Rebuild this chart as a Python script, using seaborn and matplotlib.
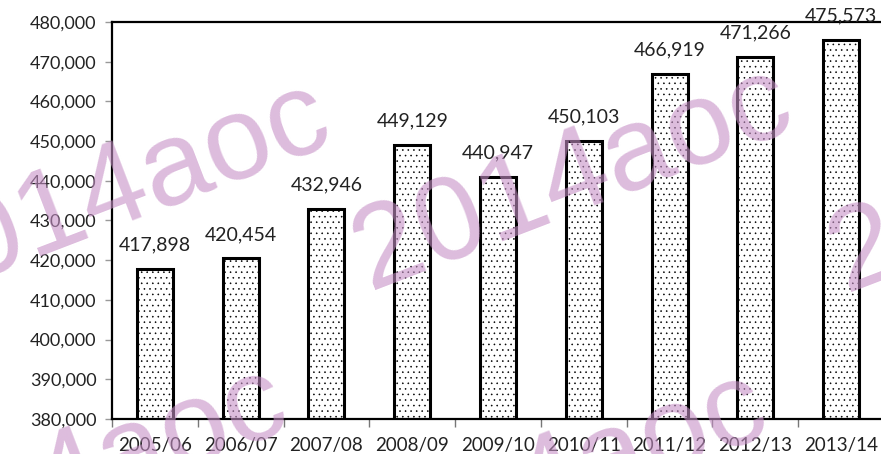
import numpy as np
import pandas as pd
import seaborn as sns
import matplotlib.pyplot as plt
from matplotlib.ticker import FuncFormatter, FixedLocator

years = ["2005/06", "2006/07", "2007/08", "2008/09", "2009/10",
         "2010/11", "2011/12", "2012/13", "2013/14"]
values = [417898, 420454, 432946, 449129, 440947,
          450103, 466919, 471266, 475573]
y_ticks = list(range(380000, 480001, 10000))

W, H = 881, 454
sns.set_style("white")
plt.rcParams['font.family'] = ['Lato', 'DejaVu Sans']
plt.rcParams['hatch.linewidth'] = 0.4
plt.rcParams['hatch.color'] = 'black'

fig = plt.figure(figsize=(W / 100, H / 100), dpi=100)
ax = fig.add_axes([112 / W, (H - 419) / H, 772 / W, (419 - 22) / H])

df = pd.DataFrame({"year": years, "value": values})
sns.barplot(data=df, x="year", y="value", color="white", edgecolor="black",
            linewidth=2.2, width=0.42, saturation=1, ax=ax)
for p in ax.patches:
  p.set_hatch('...')
  p.set_facecolor('white')

ax.set_ylim(380000, 480000)
ax.set_xlim(-0.5, len(years) - 0.5)
ax.set_yticks(y_ticks)
ax.yaxis.set_major_formatter(FuncFormatter(lambda v, _: f"{int(v):,}"))
ax.tick_params(axis='y', length=5, width=1, color='#999999', labelsize=13,
               labelcolor='#222222', pad=6, left=True)
ax.tick_params(axis='x', length=0, labelsize=13.5, labelcolor='#222222', pad=13)
ax.xaxis.set_minor_locator(FixedLocator(np.arange(-0.5, len(years), 1.0)))
ax.tick_params(axis='x', which='minor', length=6, width=1, color='#777777', bottom=True)
ax.set_xlabel("")
ax.set_ylabel("")

for s in ['left', 'bottom', 'top', 'right']:
  ax.spines[s].set_color('black')
  ax.spines[s].set_linewidth(1.6)

for i, v in enumerate(values):
  ax.annotate(f"{v:,}", (i, v), xytext=(0, 11), textcoords='offset points',
              ha='center', va='bottom', fontsize=14, color='#222222',
              annotation_clip=False)

# watermark
wm = dict(fontsize=86, color='#c690c6', alpha=0.6, rotation=21,
          rotation_mode='anchor', ha='left', va='baseline',
          family=['Liberation Sans', 'DejaVu Sans'], zorder=10)
for x0, y0 in [(370, 290), (-92, 305), (846, 292), (345, 595), (-135, 590)]:
  fig.text(x0 / W, 1 - y0 / H, "2014aoc", **wm)

fig.savefig("out.png", dpi=100)
